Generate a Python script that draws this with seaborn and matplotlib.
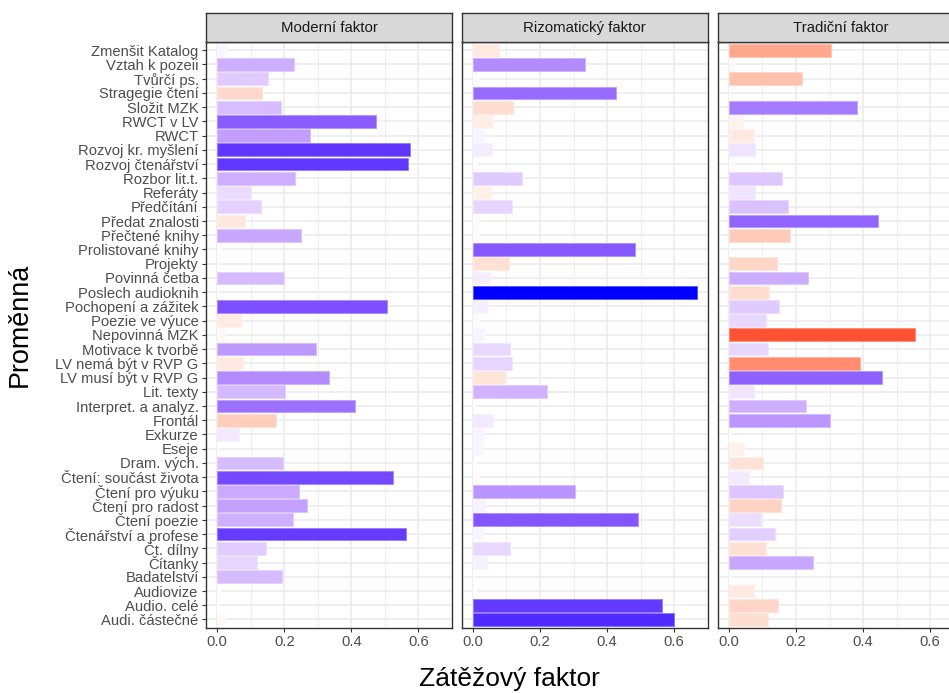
import numpy as np
import pandas as pd
import matplotlib
matplotlib.use("Agg")
import matplotlib.pyplot as plt
import seaborn as sns

# Data (signed loadings)
VARIABLES = ['Zmenšit Katalog', 'Vztah k pozeii', 'Tvůrčí ps.', 'Stragegie čtení', 'Složit MZK',
             'RWCT v LV', 'RWCT', 'Rozvoj kr. myšlení', 'Rozvoj čtenářství', 'Rozbor lit.t.',
             'Referáty', 'Předčítání', 'Předat znalosti', 'Přečtené knihy', 'Prolistované knihy',
             'Projekty', 'Povinná četba', 'Poslech audioknih', 'Pochopení a zážitek', 'Poezie ve výuce',
             'Nepovinná MZK', 'Motivace k tvorbě', 'LV nemá být v RVP G', 'LV musí být v RVP G',
             'Lit. texty', 'Interpret. a analyz.', 'Frontál', 'Exkurze', 'Eseje', 'Dram. vých.',
             'Čtení: součást života', 'Čtení pro výuku', 'Čtení pro radost', 'Čtení poezie',
             'Čtenářství a profese', 'Čt. dílny', 'Čítanky', 'Badatelství', 'Audiovize',
             'Audio. celé', 'Audi. částečné']

FACTORS = ['Moderní faktor', 'Rizomatický faktor', 'Tradiční faktor']

moderni = [0.027, 0.228, 0.151, -0.135, 0.189, 0.472, 0.276, 0.575, 0.570, 0.233,
           0.101, 0.132, -0.084, 0.250, -0.012, 0.002, 0.198, 0.002, 0.505, -0.072,
           -0.022, 0.294, -0.077, 0.334, 0.201, 0.410, -0.176, 0.065, 0.002, 0.195,
           0.523, 0.243, 0.269, 0.225, 0.562, 0.146, 0.120, 0.193, 0.007, 0.003, -0.022]

rizomaticky = [-0.079, 0.334, 0.014, 0.426, -0.121, -0.061, 0.032, 0.057, 0.008, 0.147,
               -0.055, 0.118, -0.016, 0.016, 0.482, -0.108, 0.052, 0.667, 0.046, -0.016,
               0.034, 0.110, 0.118, -0.096, 0.220, 0.006, 0.059, 0.034, 0.028, -0.010,
               -0.018, 0.304, 0.037, 0.491, 0.030, 0.110, 0.043, 0.001, 0.009, 0.564, 0.599]

tradicni = [-0.304, -0.017, -0.218, 0.001, 0.382, -0.041, -0.076, 0.079, 0.015, 0.159,
            0.079, 0.177, 0.446, -0.183, 0.001, -0.142, 0.237, -0.119, 0.149, 0.112,
            -0.556, 0.117, -0.390, 0.457, 0.076, 0.231, 0.302, 0.003, -0.044, -0.103,
            0.059, 0.162, -0.154, 0.097, 0.138, -0.110, 0.250, 0.003, -0.076, -0.145, -0.117]

W, H = 949, 693


def srgb_to_lab(rgb):
    c = np.asarray(rgb, dtype=float)
    lin = np.where(c <= 0.04045, c / 12.92, ((c + 0.055) / 1.055) ** 2.4)
    M = np.array([[0.4124564, 0.3575761, 0.1804375],
                  [0.2126729, 0.7151522, 0.0721750],
                  [0.0193339, 0.1191920, 0.9503041]])
    xyz = M @ lin / np.array([0.95047, 1.0, 1.08883])
    d = 6 / 29
    f = np.where(xyz > d ** 3, np.cbrt(xyz), xyz / (3 * d ** 2) + 4 / 29)
    return np.array([116 * f[1] - 16, 500 * (f[0] - f[1]), 200 * (f[1] - f[2])])


def lab_to_srgb(lab):
    L, a, b = lab
    fy = (L + 16) / 116
    f = np.array([fy + a / 500, fy, fy - b / 200])
    d = 6 / 29
    xyz = np.where(f > d, f ** 3, 3 * d ** 2 * (f - 4 / 29)) * np.array([0.95047, 1.0, 1.08883])
    Minv = np.linalg.inv(np.array([[0.4124564, 0.3575761, 0.1804375],
                                   [0.2126729, 0.7151522, 0.0721750],
                                   [0.0193339, 0.1191920, 0.9503041]]))
    lin = np.clip(Minv @ xyz, 0, 1)
    out = np.where(lin <= 0.0031308, 12.92 * lin, 1.055 * lin ** (1 / 2.4) - 0.055)
    return tuple(np.clip(out, 0, 1))


LAB_RED = srgb_to_lab((1, 0, 0))
LAB_WHITE = srgb_to_lab((1, 1, 1))
LAB_BLUE = srgb_to_lab((0, 0, 1))


def fill_colour(v, maxabs):
    # like scale_fill_gradient2(low='red', mid='white', high='blue'), Lab interpolation
    t = v / maxabs
    end = LAB_BLUE if t >= 0 else LAB_RED
    return lab_to_srgb(LAB_WHITE + abs(t) * (end - LAB_WHITE))


def lighten(c, amt=0.35):
    c = np.array(matplotlib.colors.to_rgb(c))
    return tuple(c + (1 - c) * amt)


# long table
df = pd.DataFrame({
    'Proměnná': VARIABLES * 3,
    'Faktor': np.repeat(FACTORS, len(VARIABLES)),
    'Zátěž': moderni + rizomaticky + tradicni,
})
df['abs'] = df['Zátěž'].abs()
maxabs = df['abs'].max()

sns.set_theme(style='white')
plt.rcParams['font.family'] = ['Liberation Sans', 'DejaVu Sans']

fig = plt.figure(figsize=(W / 100, H / 100), dpi=100)

panel_left = [206, 461.7, 717.7]
panel_w = 246
panel_top, panel_bot = 41.7, 628
strip_top = 13.3

for i, fac in enumerate(FACTORS):
    sub = df[df['Faktor'] == fac]
    pal = {v: fill_colour(z, maxabs) for v, z in zip(sub['Proměnná'], sub['Zátěž'])}
    ax = fig.add_axes([panel_left[i] / W, 1 - panel_bot / H,
                       panel_w / W, (panel_bot - panel_top) / H])
    sns.barplot(data=sub, x='abs', y='Proměnná', hue='Proměnná', order=VARIABLES,
                hue_order=VARIABLES, palette=pal, legend=False, width=0.9,
                saturation=1, orient='h', ax=ax, errorbar=None, linewidth=0)
    for p in ax.patches:
        p.set_edgecolor(lighten(p.get_facecolor()))
        p.set_linewidth(0.7)

    ax.set_xlim(-0.0333, 0.7)
    ax.set_ylim(len(VARIABLES) - 0.4, -0.6)
    ax.set_xticks([0, 0.2, 0.4, 0.6])
    ax.set_xticklabels(['0.0', '0.2', '0.4', '0.6'])
    ax.set_xticks([0.1, 0.3, 0.5], minor=True)
    ax.set_axisbelow(True)
    ax.grid(which='major', color='#EBEBEB', linewidth=1.1)
    ax.grid(which='minor', axis='x', color='#EBEBEB', linewidth=0.55)
    ax.set_xlabel('')
    ax.set_ylabel('')
    ax.tick_params(axis='x', which='major', bottom=True, length=2.75, width=0.8,
                   color='#333333', pad=2.5, labelsize=10.6, labelcolor='#4D4D4D')
    ax.tick_params(axis='x', which='minor', bottom=False)
    if i == 0:
        ax.tick_params(axis='y', left=True, length=2.75, width=0.8, color='#333333',
                       pad=2.5, labelsize=10.6, labelcolor='#4D4D4D')
    else:
        ax.tick_params(axis='y', left=False, labelleft=False)
    for s in ax.spines.values():
        s.set_color('#333333')
        s.set_linewidth(1.0)

    # facet strip
    sax = fig.add_axes([panel_left[i] / W, 1 - panel_top / H,
                        panel_w / W, (panel_top - strip_top) / H])
    sax.set_facecolor('#D9D9D9')
    sax.set_xticks([])
    sax.set_yticks([])
    for s in sax.spines.values():
        s.set_color('#333333')
        s.set_linewidth(1.0)
    sax.text(0.5, 0.47, fac, ha='center', va='center', fontsize=10.8,
             color='#1A1A1A', transform=sax.transAxes)

fig.text(509 / W, 1 - 686 / H, 'Zátěžový faktor', ha='center', va='baseline',
         fontsize=19, color='black')
fig.text(20 / W, 1 - 325 / H, 'Proměnná', ha='center', va='center', rotation=90,
         fontsize=19.4, color='black')

fig.savefig('out.png', dpi=100)
plt.close(fig)
